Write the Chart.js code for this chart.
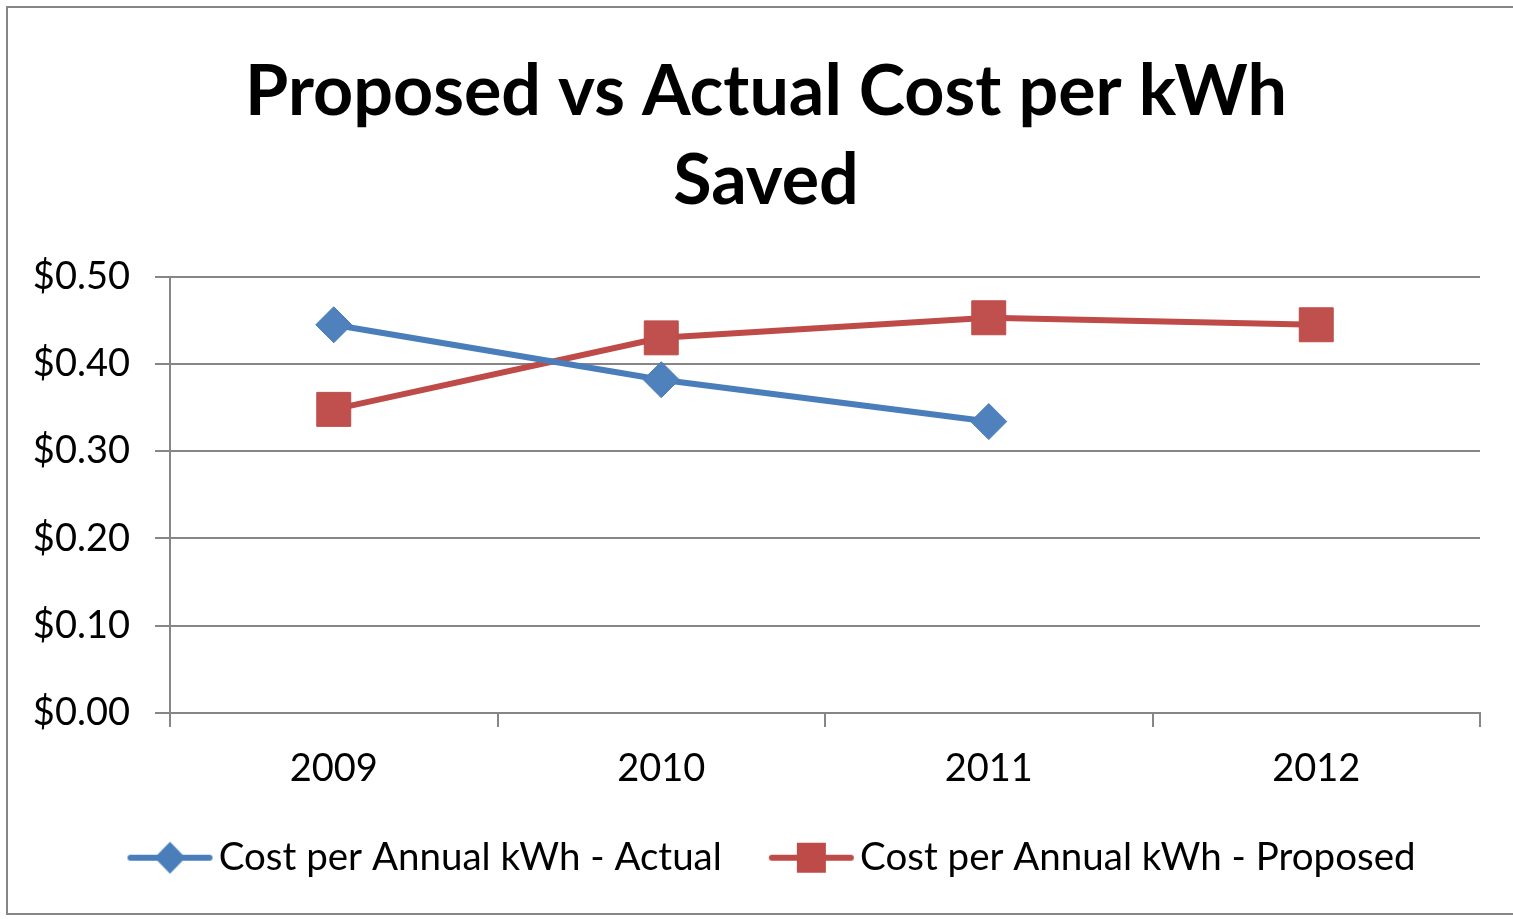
<!DOCTYPE html>
<html>
<head>
<meta charset="utf-8">
<script src="https://cdn.jsdelivr.net/npm/chart.js@4"></script>
<style>
  html, body { margin: 0; padding: 0; background: #fff; }
  #wrap { position: absolute; left: 0; top: 0; width: 1513px; height: 919px; }
  #frame { position: absolute; left: 6px; top: 6px; width: 1510px; height: 909px;
           border: 2px solid #868686; box-sizing: border-box; pointer-events: none; }
</style>
</head>
<body>
<div id="wrap">
  <canvas id="costChart" width="1513" height="919"></canvas>
  <div id="frame"></div>
</div>
<script>
// data
const years = ['2009', '2010', '2011', '2012'];
const actualCost = [0.445, 0.382, 0.334, null];
const proposedCost = [0.348, 0.430, 0.453, 0.445];
const seriesNames = ['Cost per Annual kWh - Actual', 'Cost per Annual kWh - Proposed'];

const BLUE = '#4A7EBB';
const RED = '#BE4B48';
const FONT = 'Lato, "Open Sans", sans-serif';

// legend icon: line with the marker in the middle (excel style)
function legendIcon(color, shape) {
  const c = document.createElement('canvas');
  c.width = 87;
  c.height = 34;
  const g = c.getContext('2d');
  g.strokeStyle = color;
  g.lineWidth = 6;
  g.lineCap = 'round';
  g.beginPath();
  g.moveTo(4, 17);
  g.lineTo(83, 17);
  g.stroke();
  g.fillStyle = color;
  g.beginPath();
  if (shape === 'diamond') {
    g.moveTo(43.5, 1); g.lineTo(59, 17); g.lineTo(43.5, 33); g.lineTo(28, 17);
  } else {
    g.rect(29, 2, 29, 30);
  }
  g.closePath();
  g.fill();
  return c;
}
const icons = [legendIcon(BLUE, 'diamond'), legendIcon(RED, 'square')];

// excel centres title and legend on the whole frame, not on the box left of the y axis;
// the legend also sits closer to the year labels than the wide item padding allows
const recentre = {
  id: 'recentre',
  afterLayout(chart) {
    chart.titleBlock.left += 21;
    chart.titleBlock.right += 21;
    chart.legend.left += 33;
    chart.legend.right += 33;
    chart.legend.top -= 32;
    chart.legend.bottom -= 32;
  }
};

const ctx = document.getElementById('costChart').getContext('2d');
new Chart(ctx, {
  type: 'line',
  data: {
    labels: years,
    datasets: [{
      label: seriesNames[0],
      data: actualCost,
      borderColor: BLUE,
      backgroundColor: '#4F81BD',
      borderWidth: 6,
      pointStyle: 'rectRot',
      pointRadius: 18,
      pointBorderWidth: 1,
      pointBorderColor: BLUE,
      tension: 0
    }, {
      label: seriesNames[1],
      data: proposedCost,
      borderColor: RED,
      backgroundColor: '#C0504D',
      borderWidth: 6,
      pointStyle: 'rect',
      pointRadius: 24,
      pointBorderWidth: 1,
      pointBorderColor: RED,
      tension: 0
    }]
  },
  options: {
    responsive: false,
    animation: false,
    layout: { padding: { top: 30, left: 10, right: 33, bottom: 0 } },
    plugins: {
      title: {
        display: true,
        text: ['Proposed vs Actual Cost per kWh', 'Saved'],
        color: '#000',
        font: { family: FONT, size: 70, weight: 'bold', lineHeight: 1.27 },
        padding: { top: 18, bottom: 51 }
      },
      legend: {
        position: 'bottom',
        labels: {
          usePointStyle: true,
          pointStyleWidth: 59,
          padding: 60,
          color: '#000',
          font: { family: FONT, size: 38.5 },
          generateLabels: chart => chart.data.datasets.map((ds, i) => ({
            text: ds.label,
            pointStyle: icons[i],
            fillStyle: ds.borderColor,
            strokeStyle: ds.borderColor,
            lineWidth: 0,
            datasetIndex: i,
            hidden: false
          }))
        }
      },
      tooltip: { enabled: false }
    },
    scales: {
      x: {
        offset: true,
        grid: {
          offset: true,
          drawOnChartArea: false,
          tickLength: 14,
          color: '#868686',
          lineWidth: 2
        },
        border: { color: '#868686', width: 2 },
        ticks: { color: '#000', padding: 19, font: { family: FONT, size: 38 } }
      },
      y: {
        min: 0,
        max: 0.5,
        ticks: {
          stepSize: 0.1,
          color: '#000',
          padding: 25,
          font: { family: FONT, size: 38 },
          callback: v => '$' + v.toFixed(2)
        },
        grid: { color: '#868686', lineWidth: 2, tickLength: 15 },
        border: { color: '#868686', width: 2 },
        afterFit: scale => { scale.width = 160; }
      }
    }
  },
  plugins: [recentre]
});
</script>
</body>
</html>
